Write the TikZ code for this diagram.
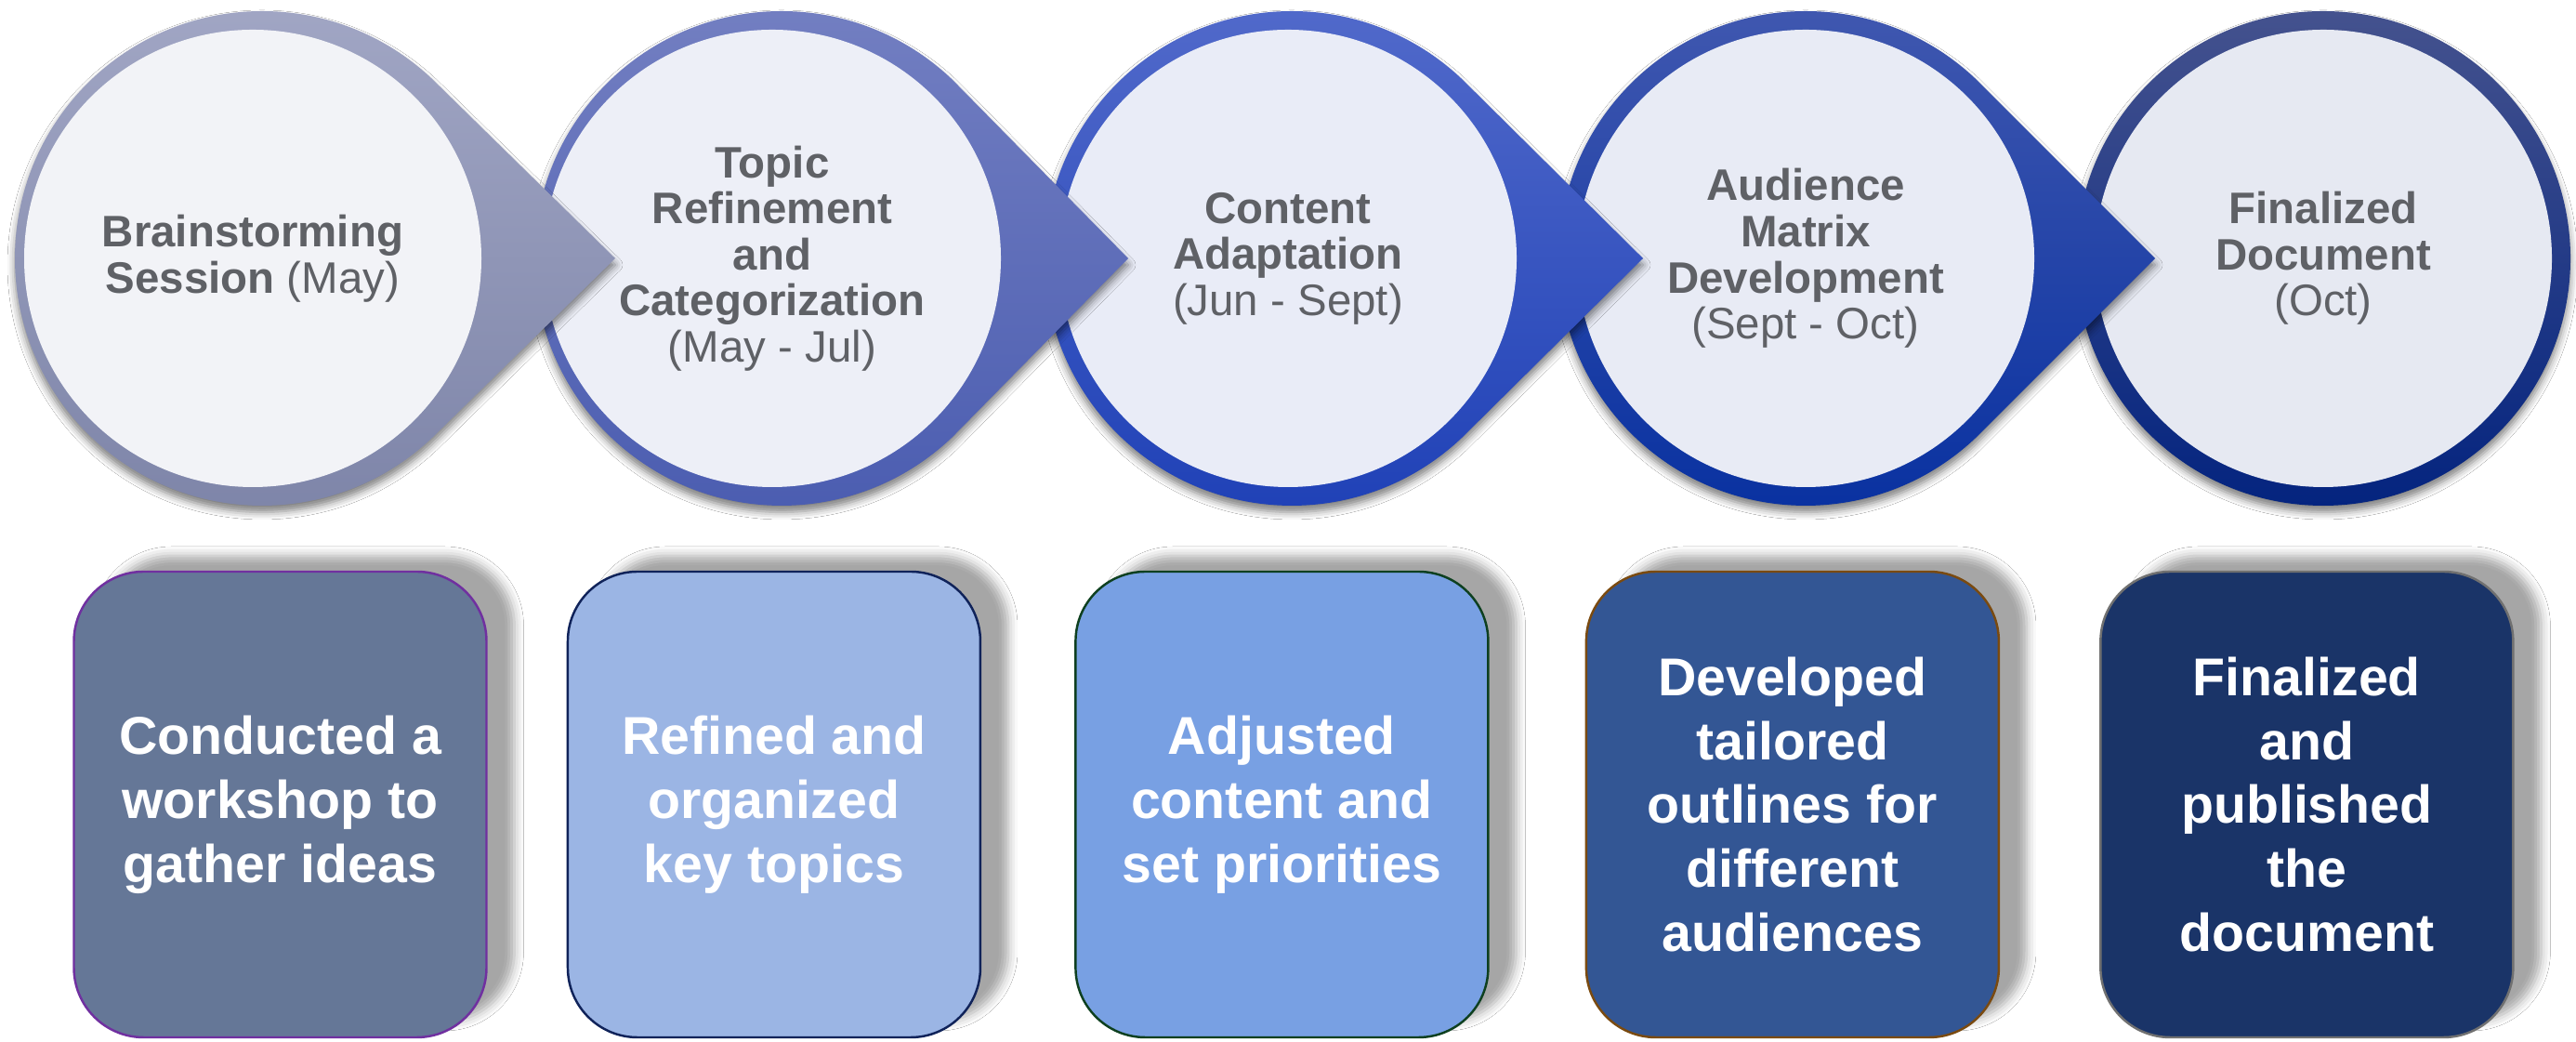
\documentclass[tikz,border=0pt]{standalone}
\usepackage{fontspec}
\setmainfont{Liberation Sans}
\usepackage{xcolor}
\usetikzlibrary{positioning,shadows.blur}

\definecolor{ringAtop}{HTML}{A2A7C5}
\definecolor{ringAbot}{HTML}{7D84A8}
\definecolor{ringBtop}{HTML}{7480C2}
\definecolor{ringBbot}{HTML}{4A5CB0}
\definecolor{ringCtop}{HTML}{536BCB}
\definecolor{ringCbot}{HTML}{1E40B6}
\definecolor{ringDtop}{HTML}{4259B0}
\definecolor{ringDbot}{HTML}{0730A0}
\definecolor{ringEtop}{HTML}{44528E}
\definecolor{ringEbot}{HTML}{04247F}
\definecolor{discA}{HTML}{F2F3F7}
\definecolor{discB}{HTML}{EDEFF7}
\definecolor{discC}{HTML}{E9ECF7}
\definecolor{discD}{HTML}{E8EBF5}
\definecolor{discE}{HTML}{E6E9F2}
\definecolor{labelgray}{HTML}{5F6166}
\definecolor{boxA}{HTML}{657797}
\definecolor{boxB}{HTML}{9BB5E4}
\definecolor{boxC}{HTML}{78A0E3}
\definecolor{boxD}{HTML}{335694}
\definecolor{boxE}{HTML}{1A3468}
\definecolor{lineA}{HTML}{7030A0}
\definecolor{lineB}{HTML}{10235A}
\definecolor{lineC}{HTML}{0E4020}
\definecolor{lineD}{HTML}{7A4A10}
\definecolor{lineE}{HTML}{707070}

\begin{document}
\begin{tikzpicture}[
    ring/.style={blur shadow={shadow xshift=0cm, shadow yshift=-0.07cm, shadow blur radius=0.08cm, shadow opacity=50}},
    stage/.style={text=labelgray, align=center, font=\fontsize{13.5}{14.1}\selectfont\bfseries},
    task/.style={rectangle, rounded corners=0.75cm, draw, line width=0.7pt, text=white, align=center,
        minimum width=4.44cm, minimum height=5.01cm, font=\fontsize{16.3}{19.6}\selectfont\bfseries,
        blur shadow={shadow xshift=0.3cm, shadow yshift=0.17cm, shadow blur radius=0.1cm, shadow opacity=35}}
]
    \useasboundingbox (0,0) rectangle (27.72,11.21);
    \fill[white] (0,0) rectangle (27.72,11.21);

    % stage rings, last one first so each tip lies over the next ring
    \shade[ring, top color=ringEtop, bottom color=ringEbot] (25.00,8.43) circle[radius=2.66];
    \fill[discE] (25.00,8.43) circle[radius=2.46];
    \foreach \cx/\off/\tip/\ringtop/\ringbot/\disc in {19.43/0/3.76/ringDtop/ringDbot/discD,
        13.86/0.04/3.82/ringCtop/ringCbot/discC, 8.31/0.1/3.83/ringBtop/ringBbot/discB,
        2.72/0.1/3.9/ringAtop/ringAbot/discA} {
        \shade[ring, top color=\ringtop, bottom color=\ringbot]
            (\cx+\tip,8.43) -- ([shift={(\cx+\off,8.43)}]46.3:2.66)
            arc[start angle=46.3, end angle=313.7, radius=2.66] -- cycle;
        \fill[\disc] (\cx,8.43) circle[radius=2.46];
    }

    \node[stage] (s1) at (2.72,8.43) {Brainstorming\\Session {\mdseries (May)}};
    \node[stage] (s2) at (8.31,8.43) {Topic\\Refinement\\and\\Categorization\\{\mdseries (May - Jul)}};
    \node[stage] (s3) at (13.86,8.43) {Content\\Adaptation\\{\mdseries (Jun - Sept)}};
    \node[stage] (s4) at (19.43,8.43) {Audience\\Matrix\\Development\\{\mdseries (Sept - Oct)}};
    \node[stage] (s5) at (25.00,8.43) {Finalized\\Document\\{\mdseries (Oct)}};

    % task boxes
    \node[task, fill=boxA, draw=lineA] (t1) at (3.015,2.555) {Conducted a\\workshop to\\gather ideas};
    \node[task, fill=boxB, draw=lineB, right=0.85cm of t1] (t2) {Refined and\\organized\\key topics};
    \node[task, fill=boxC, draw=lineC, right=1.0cm of t2] (t3) {Adjusted\\content and\\set priorities};
    \node[task, fill=boxD, draw=lineD, right=1.03cm of t3] (t4) {Developed\\tailored\\outlines for\\different\\audiences};
    \node[task, fill=boxE, draw=lineE, right=1.07cm of t4] (t5) {Finalized\\and\\published\\the\\document};
\end{tikzpicture}
\end{document}
